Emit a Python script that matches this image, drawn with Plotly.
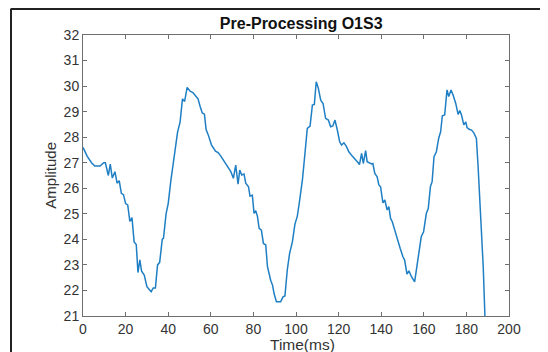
import plotly.graph_objects as go

time_ms = [0, 2, 4, 5.5, 8, 9.7, 10.5, 11.9, 12.8, 13.75, 15, 16, 17, 18, 19, 20, 21, 22, 23, 24, 25,
           25.8, 26.7, 27.5, 28.75, 30, 31, 32, 33, 34, 35, 36, 37.2, 37.8, 39, 40, 41.25, 42.5, 43.4,
           44.4, 45.6, 46.7, 47.7, 48.9, 50.3, 51.6, 53, 54, 55, 56, 57, 57.8, 58.75, 60.3, 62.2, 63.4,
           64.7, 66.25, 67.8, 69.4, 70.6, 71.7, 72.8, 73.6, 74.5, 75.6, 76.4, 77.7, 78.4, 79.5, 80.3,
           81.1, 81.9, 82.7, 83.75, 84.7, 85.8, 86.6, 88.1, 89, 89.7, 90.8, 92.8, 93.9, 94.8, 95.9, 97,
           98.3, 99.5, 100.6, 101.4, 103, 104.2, 105.3, 106.6, 107.7, 108.6, 109.5, 110.5, 111.6, 112.7,
           113.9, 115.2, 116.25, 117.3, 118.3, 119.4, 120.5, 121.4, 122.5, 123.6, 124.8, 126.4, 128,
           129.2, 129.8, 130.8, 131.6, 132.7, 133.4, 134.5, 135.5, 136.1, 137, 138.1, 138.9, 139.7,
           140.8, 141.7, 142.8, 143.6, 144.4, 145.2, 146.7, 147.85, 148.9, 150.2, 151, 152.1, 153,
           154.1, 155.7, 156.5, 157.7, 158.8, 159.9, 161.2, 162.1, 163.1, 163.9, 164.8, 165.9, 167,
           167.9, 168.7, 169.8, 170.9, 171.7, 172.8, 173.75, 175, 176.1, 176.9, 177.7, 178.8, 179.7,
           180.3, 181.3, 182.4, 183.5, 184.7, 185.5, 186.8, 187.9, 188.7, 189.3]

amplitude = [27.6, 27.25, 27.0, 26.87, 26.87, 27.0, 27.0, 26.5, 26.95, 26.4, 26.65, 26.2, 26.3, 25.8,
             25.75, 25.4, 25.35, 24.7, 24.85, 23.9, 23.8, 22.7, 23.2, 22.75, 22.6, 22.15, 22.05, 21.95,
             22.1, 22.1, 23.0, 23.1, 24.0, 24.05, 25.0, 25.4, 26.3, 27.1, 27.5, 28.2, 28.6, 29.5, 29.4,
             29.95, 29.8, 29.75, 29.6, 29.5, 29.2, 28.95, 28.9, 28.3, 28.1, 27.7, 27.45, 27.4, 27.26,
             27.04, 26.84, 26.65, 26.39, 26.91, 26.16, 26.71, 26.52, 26.56, 26.2, 26.06, 25.7, 25.73,
             25.02, 25.12, 24.9, 24.43, 24.36, 23.84, 23.78, 22.93, 22.4, 22.2, 21.88, 21.56, 21.56,
             21.75, 21.78, 22.8, 23.45, 23.9, 24.6, 24.9, 25.34, 26.32, 27.36, 28.34, 28.43, 29.26,
             29.28, 30.17, 29.91, 29.45, 29.32, 28.74, 28.67, 28.41, 28.44, 28.67, 28.28, 27.82, 27.69,
             27.78, 27.65, 27.43, 27.26, 27.13, 27.0, 26.93, 27.37, 26.97, 27.47, 27.04, 27.0, 26.95,
             26.97, 26.58, 26.45, 26.13, 26.06, 25.43, 25.54, 25.15, 25.28, 24.82, 24.69, 24.23, 23.97,
             23.65, 23.32, 23.19, 22.64, 22.77, 22.56, 22.34, 22.8, 23.39, 24.1, 24.3, 25.02, 25.21,
             26.06, 26.26, 27.24, 27.43, 27.96, 28.21, 28.84, 28.87, 29.85, 29.59, 29.85, 29.65, 29.32,
             28.89, 29.04, 28.87, 28.48, 28.6, 28.38, 28.31, 28.28, 28.17, 27.95, 26.84, 24.75, 22.93,
             21.0, 20.0]

x_ticks = [0, 20, 40, 60, 80, 100, 120, 140, 160, 180, 200]
y_ticks = [21, 22, 23, 24, 25, 26, 27, 28, 29, 30, 31, 32]

title_text = "Pre-Processing O1S3"
x_label = "Time(ms)"
y_label = "Amplitude"

axis_color = "#6e6e6e"
text_color = "#333333"

fig = go.Figure()
fig.add_trace(go.Scatter(x=time_ms, y=amplitude, mode="lines",
                         line=dict(color="#1f7fc4", width=1.5), showlegend=False))

# the page body has an 8px default margin, so the figure is 8px smaller on each axis
fig.update_layout(
    width=540, height=344,
    margin=dict(l=75, r=39, t=27, b=36, autoexpand=False),
    paper_bgcolor="white", plot_bgcolor="white",
    font=dict(family="Liberation Sans, Arial, sans-serif", color=text_color, size=13),
    title=dict(text="<b>" + title_text + "</b>", x=0.543, xanchor="center", y=0.955, yanchor="middle",
               font=dict(size=16, color="#111111")),
)

fig.update_xaxes(range=[0, 200], tickvals=x_ticks, ticks="inside", ticklen=4, tickcolor=axis_color,
                 showline=True, linecolor=axis_color, linewidth=1, mirror="ticks", showgrid=False,
                 zeroline=False, automargin=False, tickfont=dict(size=14, color=text_color))
fig.update_yaxes(range=[21, 32], tickvals=y_ticks, ticks="inside", ticklen=4, tickcolor=axis_color,
                 showline=True, linecolor=axis_color, linewidth=1, mirror="ticks", showgrid=False,
                 zeroline=False, automargin=False, tickfont=dict(size=14, color=text_color))

# axis titles
fig.add_annotation(text=x_label, xref="paper", yref="paper", x=0.516, y=-0.1, xanchor="center",
                   yanchor="middle", showarrow=False, font=dict(size=15.5, color=text_color))
fig.add_annotation(text=y_label, xref="paper", yref="paper", x=-0.077, y=0.5, xanchor="center",
                   yanchor="middle", textangle=-90, showarrow=False, font=dict(size=15, color=text_color))

# outer frame lines (top and left) of the screenshot
fig.add_shape(type="line", xref="paper", yref="paper", x0=-0.17, x1=1.12, y0=1.0925, y1=1.0925,
              line=dict(color="#222222", width=2))
fig.add_shape(type="line", xref="paper", yref="paper", x0=-0.169, x1=-0.169, y0=-0.15, y1=1.0925,
              line=dict(color="#222222", width=2))

fig.write_html("out.html")
